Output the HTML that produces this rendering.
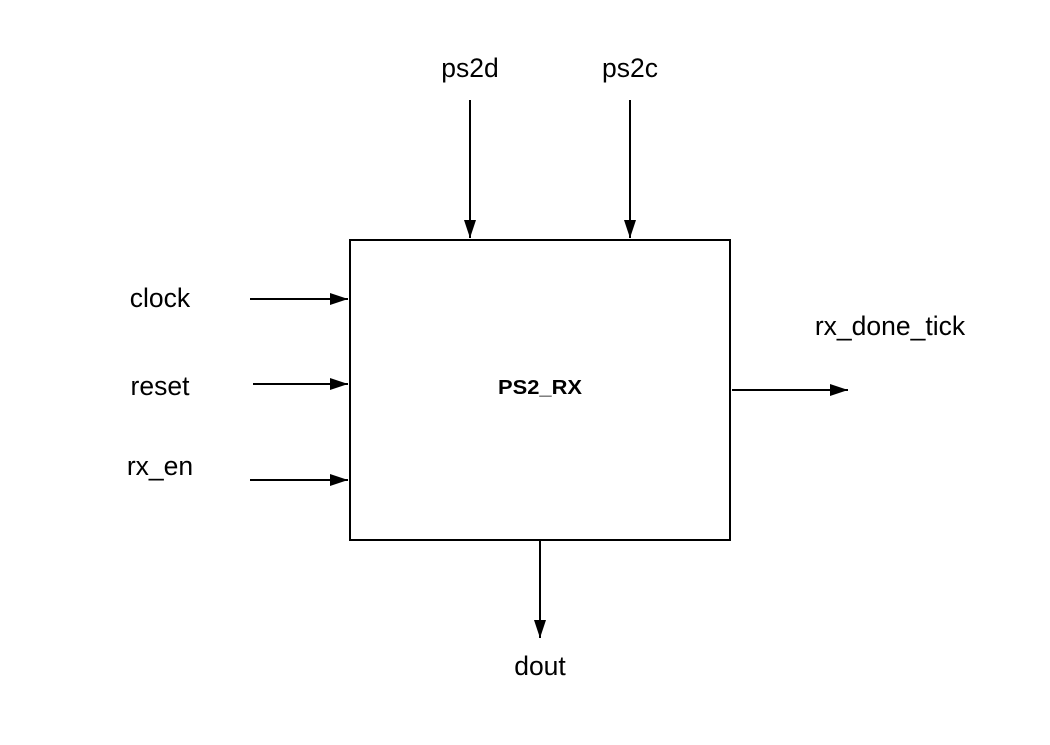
<!DOCTYPE html>
<html><head><style>
body{margin:0;background:#fff;}
svg text{font-family:"Liberation Sans",sans-serif;}
</style></head><body>
<svg width="1050" height="740" viewBox="0 0 1050 740" xmlns="http://www.w3.org/2000/svg">
<defs><marker id="b" markerWidth="18" markerHeight="12" refX="18" refY="6" orient="auto" markerUnits="userSpaceOnUse"><path d="M0,0 L18,6 L0,12 z" fill="#000"/></marker></defs>
<rect x="350" y="240" width="380" height="300" fill="#fff" stroke="#000" stroke-width="2"/>
<text x="540" y="394" font-size="20" font-weight="bold" text-anchor="middle" textLength="84" lengthAdjust="spacingAndGlyphs">PS2_RX</text>
<g stroke="#000" stroke-width="2" fill="none" marker-end="url(#b)">
<line x1="470" y1="100" x2="470" y2="238"/>
<line x1="630" y1="100" x2="630" y2="238"/>
<line x1="250" y1="299" x2="348" y2="299"/>
<line x1="253" y1="384" x2="348" y2="384"/>
<line x1="250" y1="480" x2="348" y2="480"/>
<line x1="732" y1="390" x2="848" y2="390"/>
<line x1="540" y1="541" x2="540" y2="638"/>
</g>
<g font-size="26.5" text-anchor="middle">
<text x="470" y="77">ps2d</text>
<text x="630" y="77">ps2c</text>
<text x="160" y="307">clock</text>
<text x="160" y="395">reset</text>
<text x="160" y="475">rx_en</text>
<text x="890" y="335">rx_done_tick</text>
<text x="540" y="675">dout</text>
</g>
</svg>
</body></html>
